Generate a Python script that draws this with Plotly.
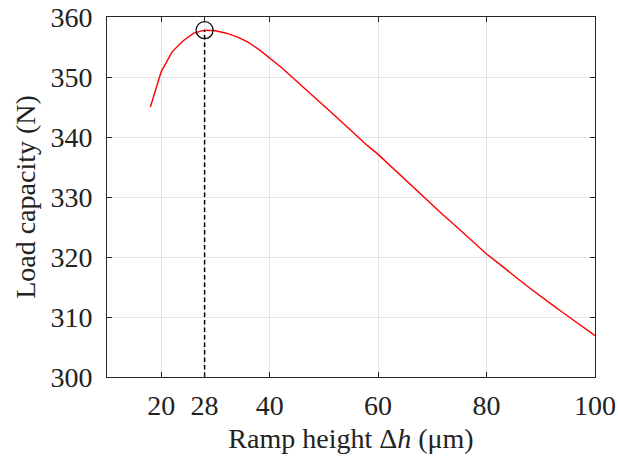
import plotly.graph_objects as go

ramp_height = [18, 20, 22, 24, 26, 28, 30, 32, 34, 36, 38, 40, 42, 44, 46, 48, 50,
               52, 54, 56, 58, 60, 62, 64, 66, 68, 70, 72, 74, 76, 78, 80, 82, 84,
               86, 88, 90, 92, 94, 96, 98, 100]
load_capacity = [345.0, 350.9, 354.2, 356.0, 357.3, 357.8, 357.7, 357.3, 356.7, 355.8,
                 354.6, 353.2, 351.7, 350.1, 348.5, 346.9, 345.3, 343.6, 341.9, 340.2,
                 338.6, 337.1, 335.4, 333.7, 332.0, 330.3, 328.6, 327.0, 325.4, 323.8,
                 322.2, 320.5, 319.1, 317.6, 316.2, 314.8, 313.4, 312.1, 310.8, 309.5,
                 308.2, 306.9]
opt_x = 28
opt_y = 357.8
y_base = 300
x_ticks = [20, 28, 40, 60, 80, 100]
y_ticks = [300, 310, 320, 330, 340, 350, 360]

font_family = "Liberation Serif"
fsize = 28

fig = go.Figure()
fig.add_trace(go.Scatter(x=ramp_height, y=load_capacity, mode="lines",
                         line=dict(color="#ff0000", width=1.4), showlegend=False))
fig.add_trace(go.Scatter(x=[opt_x, opt_x], y=[y_base, opt_y], mode="lines",
                         line=dict(color="black", width=1.5, dash="4.5px,3px"), showlegend=False))
fig.add_trace(go.Scatter(x=[opt_x], y=[opt_y], mode="markers",
                         marker=dict(symbol="circle-open", size=17,
                                     color="black", line=dict(color="black", width=1.2)),
                         showlegend=False))

axis_common = dict(showline=True, linecolor="#262626", linewidth=1, mirror="ticks",
                   ticks="inside", ticklen=5, tickcolor="#262626", tickwidth=1,
                   showgrid=True, gridcolor="#e3e3e3", gridwidth=1, zeroline=False,
                   automargin=False, ticklabeloverflow="allow",
                   tickfont=dict(family=font_family, size=fsize, color="#222"))

fig.update_layout(
    width=618, height=457,
    margin=dict(l=107, r=23, t=17, b=80),
    paper_bgcolor="white", plot_bgcolor="white",
    font=dict(family=font_family, color="#222"),
    xaxis=dict(range=[10, 100], tickvals=x_ticks, ticklabelstandoff=3,
               title=dict(text="Ramp height Δ<i>h</i> (μm)",
                          font=dict(family=font_family, size=fsize), standoff=8),
               **axis_common),
    yaxis=dict(range=[300, 360], tickvals=y_ticks, ticklabelstandoff=8,
               title=dict(text="Load capacity (N)",
                          font=dict(family=font_family, size=fsize), standoff=6),
               **axis_common),
)

fig.write_html("out.html", config={"displayModeBar": False},
               post_script="document.body.style.margin='0';document.body.style.overflow='hidden';")
